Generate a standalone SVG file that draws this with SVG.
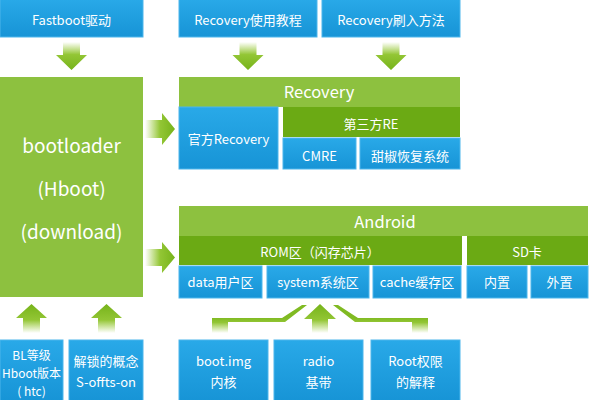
<svg xmlns="http://www.w3.org/2000/svg" width="590" height="400" viewBox="0 0 590 400">
<defs>
<linearGradient id="gBlue" x1="0" y1="0" x2="0" y2="1">
<stop offset="0" stop-color="#29A9E8"/><stop offset="1" stop-color="#1794D6"/>
</linearGradient>
<linearGradient id="gDown" x1="0" y1="0" x2="0" y2="1">
<stop offset="0" stop-color="#9CCB3B" stop-opacity="0"/><stop offset="0.45" stop-color="#93C635"/><stop offset="1" stop-color="#76B31A"/>
</linearGradient>
<linearGradient id="gUp" x1="0" y1="1" x2="0" y2="0">
<stop offset="0" stop-color="#9CCB3B" stop-opacity="0"/><stop offset="0.45" stop-color="#93C635"/><stop offset="1" stop-color="#76B31A"/>
</linearGradient>
<linearGradient id="gRight" x1="0" y1="0" x2="1" y2="0">
<stop offset="0" stop-color="#9CCB3B" stop-opacity="0"/><stop offset="0.5" stop-color="#93C635"/><stop offset="1" stop-color="#76B31A"/>
</linearGradient>
<linearGradient id="gBent" gradientUnits="userSpaceOnUse" x1="0" y1="318" x2="0" y2="333">
<stop offset="0" stop-color="#80BA22"/><stop offset="0.3" stop-color="#93C635"/><stop offset="1" stop-color="#9CCB3B" stop-opacity="0"/>
</linearGradient>
<style>
.b{fill:url(#gBlue);stroke:#4CB6EC;stroke-width:1}
.g{fill:#8DC13F}
.d{fill:#6BAA14}
text{font-family:"Noto Sans CJK SC","Noto Sans",sans-serif;fill:#fff;text-anchor:middle;dominant-baseline:central;font-size:13px}
.big{font-size:19px}
.h{font-size:16.5px}
.s{font-size:12px}
</style>
</defs>
<g id="connectors">
<polygon fill="url(#gDown)" points="63,42 80,42 80,55 87,55 71.5,70 56,55 63,55"/>
<polygon fill="url(#gDown)" points="239.5,42 256.5,42 256.5,55 263.5,55 248,70 232.5,55 239.5,55"/>
<polygon fill="url(#gDown)" points="382.5,42 399.5,42 399.5,55 406.5,55 391,70 375.5,55 382.5,55"/>
<polygon fill="url(#gRight)" points="145,120 162,120 162,113 175,129 162,145 162,138 145,138"/>
<polygon fill="url(#gRight)" points="145,249 162,249 162,242 175,257.5 162,273 162,266 145,266"/>
<polygon fill="url(#gUp)" points="23,333 40,333 40,318 47,318 31.5,304 16,318 23,318"/>
<polygon fill="url(#gUp)" points="98,333 115,333 115,318 122,318 106.5,304 91,318 98,318"/>
<polygon fill="url(#gUp)" points="312,333 328,333 328,319 336,319 320,304 304,319 312,319"/>
<polygon fill="url(#gBent)" points="212,318 282,318 302,305 307,305 285,322 228,322 228,333 212,333"/>
<polygon fill="url(#gBent)" points="428,318 358,318 338,305 333,305 355,322 412,322 412,333 428,333"/>
</g>
<g id="fastboot"><rect class="b" x="0" y="-1" width="143" height="38"/><text x="71.5" y="19">Fastboot驱动</text></g>
<g id="rec-tutorial"><rect class="b" x="179" y="-1" width="138" height="38"/><text x="248" y="19">Recovery使用教程</text></g>
<g id="rec-flash"><rect class="b" x="322" y="-1" width="138" height="38"/><text x="391" y="19">Recovery刷入方法</text></g>
<g id="bootloader"><rect class="g" x="0" y="77" width="143" height="220"/>
<text class="big" x="71.5" y="144">bootloader</text><text class="big" x="71.5" y="187">(Hboot)</text><text class="big" x="71.5" y="230">(download)</text></g>
<g id="recovery"><rect class="g" x="179" y="77" width="281" height="30"/><text class="h" x="319" y="91">Recovery</text></g>
<g id="official-recovery"><rect class="b" x="179" y="107" width="99" height="62"/><text x="228.5" y="138">官方Recovery</text></g>
<g id="third-re"><rect class="d" x="283" y="107" width="177" height="30"/><text x="371" y="123">第三方RE</text></g>
<g id="cmre"><rect class="b" x="283" y="138" width="73" height="31"/><text x="319.5" y="155">CMRE</text></g>
<g id="tianjiao"><rect class="b" x="360" y="138" width="100" height="31"/><text x="410" y="155">甜椒恢复系统</text></g>
<g id="android"><rect class="g" x="179" y="206" width="409" height="30"/><text class="h" x="385" y="221">Android</text></g>
<g id="rom"><rect class="d" x="179" y="236" width="283" height="29"/><text x="320" y="251">ROM区（闪存芯片）</text></g>
<g id="sd"><rect class="d" x="467" y="236" width="121" height="29"/><text x="527" y="251">SD卡</text></g>
<g id="data"><rect class="b" x="179" y="266" width="83" height="32"/><text x="220.5" y="281">data用户区</text></g>
<g id="system"><rect class="b" x="267" y="266" width="102" height="32"/><text x="318" y="281">system系统区</text></g>
<g id="cache"><rect class="b" x="373" y="266" width="88" height="32"/><text x="417" y="281">cache缓存区</text></g>
<g id="internal"><rect class="b" x="467" y="266" width="60" height="32"/><text x="497" y="281">内置</text></g>
<g id="external"><rect class="b" x="531" y="266" width="57" height="32"/><text x="559.5" y="281">外置</text></g>
<g id="bl-level"><rect class="b" x="0" y="340" width="63" height="61"/>
<text class="s" x="31.5" y="354">BL等级</text><text class="s" x="31.5" y="372">Hboot版本</text><text class="s" x="31.5" y="390">( htc)</text></g>
<g id="unlock"><rect class="b" x="69" y="340" width="74" height="61"/>
<text x="106" y="360">解锁的概念</text><text x="106" y="381">S-offts-on</text></g>
<g id="bootimg"><rect class="b" x="179" y="340" width="89" height="61"/>
<text x="223.5" y="360">boot.img</text><text x="223.5" y="381">内核</text></g>
<g id="radio"><rect class="b" x="274" y="340" width="89" height="61"/>
<text x="318.5" y="360">radio</text><text x="318.5" y="381">基带</text></g>
<g id="root"><rect class="b" x="371" y="340" width="89" height="61"/>
<text x="415.5" y="360">Root权限</text><text x="415.5" y="381">的解释</text></g>
</svg>
